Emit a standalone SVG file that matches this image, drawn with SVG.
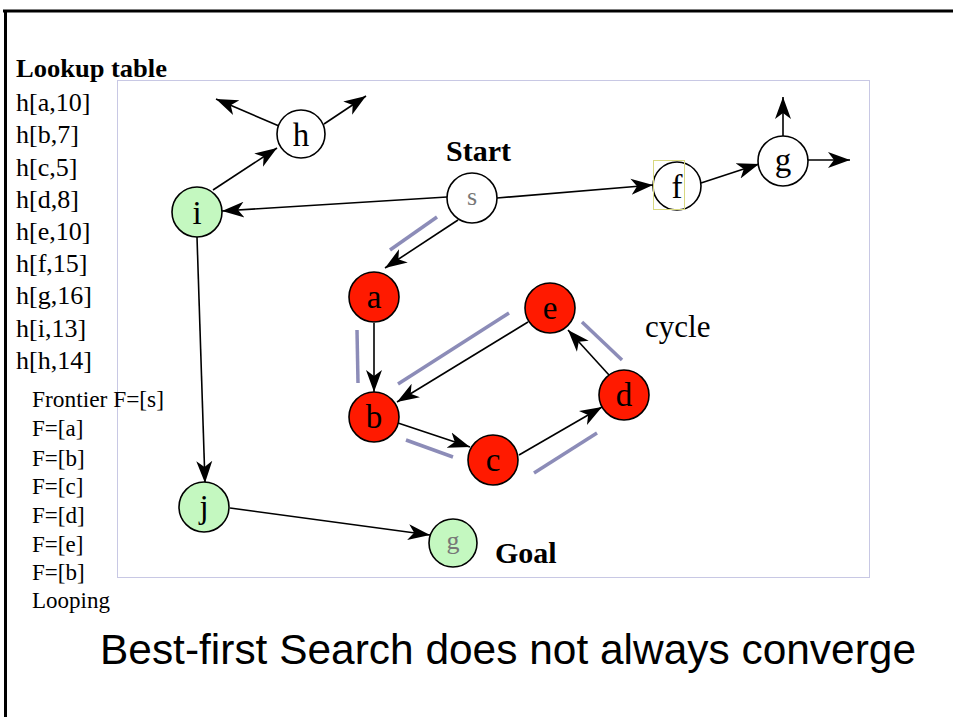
<svg xmlns="http://www.w3.org/2000/svg" width="953" height="717" viewBox="0 0 953 717">
<style>
.node circle{stroke:#000;stroke-width:1.6}
.w{fill:#fff}.r{fill:#ff1a00}.gr{fill:#c4f8c0}
.lbl{font-family:"Liberation Serif",serif;font-size:33px;text-anchor:middle;fill:#000}
.sm{font-family:"Liberation Serif",serif;font-size:26px;text-anchor:middle;fill:#777}
.t{font-family:"Liberation Serif",serif;font-size:26px;fill:#000}
.f{font-family:"Liberation Serif",serif;font-size:23px;fill:#000}
.b{font-family:"Liberation Serif",serif;font-weight:bold;fill:#000}
.cy{font-family:"Liberation Serif",serif;font-size:31px;fill:#000}
.e line{stroke:#000;stroke-width:1.6;marker-end:url(#ah)}
.hl line{stroke:#8c8cb8;stroke-width:3.5}
</style>
<defs>
<marker id="ah" markerWidth="24" markerHeight="18" refX="22" refY="9" orient="auto" markerUnits="userSpaceOnUse"><path d="M0,1 L22,9 L0,17 L6,9 Z" fill="#000"/></marker>
</defs>
<rect width="953" height="717" fill="#fff"/>
<line x1="3" y1="11" x2="953" y2="11" stroke="#000" stroke-width="3"/>
<line x1="5.5" y1="10" x2="5.5" y2="717" stroke="#000" stroke-width="3"/>
<rect x="117.5" y="80.5" width="752" height="497" fill="none" stroke="#9090c8" stroke-width="1" stroke-dasharray="1,1"/>

<g id="highlights" class="hl">
<line x1="390" y1="250" x2="437" y2="217"/>
<line x1="357" y1="330" x2="358" y2="383"/>
<line x1="398" y1="384" x2="509" y2="313"/>
<line x1="406" y1="440" x2="453" y2="457"/>
<line x1="534" y1="473" x2="597" y2="433"/>
<line x1="582" y1="322" x2="622" y2="360"/>
</g>

<g id="connectors" class="e">
<line x1="213" y1="190" x2="277" y2="148"/>
<line x1="279" y1="126" x2="216" y2="99"/>
<line x1="324" y1="124" x2="366" y2="96"/>
<line x1="447" y1="197" x2="222" y2="211"/>
<line x1="497" y1="198" x2="653" y2="185"/>
<line x1="701" y1="183" x2="759" y2="164"/>
<line x1="783" y1="136" x2="783" y2="97"/>
<line x1="808" y1="160" x2="850" y2="160"/>
<line x1="458" y1="220" x2="385" y2="268"/>
<line x1="374" y1="323" x2="374" y2="392"/>
<line x1="528" y1="322" x2="397" y2="402"/>
<line x1="398" y1="423" x2="470" y2="447"/>
<line x1="519" y1="455" x2="602" y2="407"/>
<line x1="609" y1="375" x2="568" y2="330"/>
<line x1="197" y1="237" x2="205" y2="483"/>
<line x1="230" y1="508" x2="430" y2="535"/>
</g>

<g id="node-h" class="node"><circle class="w" cx="301" cy="134" r="24"/><text class="lbl" x="301" y="146">h</text></g>
<g id="node-i" class="node"><circle class="gr" cx="197" cy="212" r="25"/><text class="lbl" x="197" y="224">i</text></g>
<g id="node-s" class="node"><circle class="w" cx="472" cy="198" r="25"/><text class="sm" x="472" y="205">s</text></g>
<g id="node-f" class="node"><circle class="w" cx="677" cy="186" r="24"/><rect x="653.5" y="160.5" width="31" height="49" fill="none" stroke="#d8d880" stroke-width="1"/><text class="lbl" x="677" y="198">f</text></g>
<g id="node-g-top" class="node"><circle class="w" cx="783" cy="161" r="25"/><text class="lbl" x="783" y="171">g</text></g>
<g id="node-a" class="node"><circle class="r" cx="374" cy="297" r="25"/><text class="lbl" x="374" y="308">a</text></g>
<g id="node-e" class="node"><circle class="r" cx="550" cy="308" r="25"/><text class="lbl" x="550" y="319">e</text></g>
<g id="node-b" class="node"><circle class="r" cx="374" cy="417" r="25"/><text class="lbl" x="374" y="428">b</text></g>
<g id="node-d" class="node"><circle class="r" cx="624" cy="395" r="25"/><text class="lbl" x="624" y="406">d</text></g>
<g id="node-c" class="node"><circle class="r" cx="493" cy="460" r="25"/><text class="lbl" x="493" y="471">c</text></g>
<g id="node-j" class="node"><circle class="gr" cx="204" cy="507" r="25"/><text class="lbl" x="204" y="518">j</text></g>
<g id="node-g-goal" class="node"><circle class="gr" cx="453" cy="543" r="24"/><text class="sm" x="453" y="549">g</text></g>

<g id="labels">
<text class="b" x="16" y="77" font-size="26" textLength="151" lengthAdjust="spacingAndGlyphs">Lookup table</text>
<text class="t" x="16" y="111">h[a,10]</text>
<text class="t" x="16" y="143">h[b,7]</text>
<text class="t" x="16" y="175.5">h[c,5]</text>
<text class="t" x="16" y="207.5">h[d,8]</text>
<text class="t" x="16" y="240">h[e,10]</text>
<text class="t" x="16" y="272">h[f,15]</text>
<text class="t" x="16" y="304">h[g,16]</text>
<text class="t" x="16" y="336.5">h[i,13]</text>
<text class="t" x="16" y="369">h[h,14]</text>
<text class="f" x="32" y="407" textLength="132" lengthAdjust="spacingAndGlyphs">Frontier F=[s]</text>
<text class="f" x="32" y="436">F=[a]</text>
<text class="f" x="32" y="466">F=[b]</text>
<text class="f" x="32" y="494">F=[c]</text>
<text class="f" x="32" y="523">F=[d]</text>
<text class="f" x="32" y="552">F=[e]</text>
<text class="f" x="32" y="580">F=[b]</text>
<text class="f" x="32" y="608">Looping</text>
<text class="b" x="446" y="161" font-size="30">Start</text>
<text class="b" x="495" y="563" font-size="30">Goal</text>
<text class="cy" x="645" y="337">cycle</text>
<text x="100" y="664" font-family="Liberation Sans, Arial, sans-serif" font-size="43" textLength="816" lengthAdjust="spacingAndGlyphs">Best-first Search does not always converge</text>
</g>
</svg>
